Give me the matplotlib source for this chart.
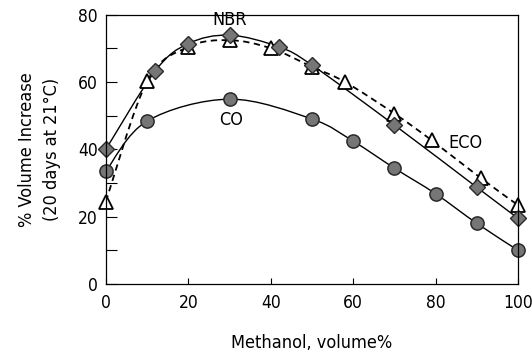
import matplotlib.pyplot as plt
from matplotlib.path import Path
from matplotlib.patches import PathPatch
from matplotlib.ticker import MultipleLocator

# values
co_x = [0, 10, 30, 50, 60, 70, 80, 90, 100]
co_y = [33.5, 48.4, 54.9, 49.0, 42.4, 34.4, 26.8, 18.0, 10.0]

nbr_x = [0, 12, 20, 30, 42, 50, 70, 90, 100]
nbr_y = [40.0, 63.3, 71.4, 73.9, 70.4, 65.0, 47.2, 28.7, 19.5]

eco_x = [0, 10, 20, 30, 40, 50, 58, 70, 79, 91, 100]
eco_y = [24.5, 60.2, 70.4, 72.4, 70.0, 64.5, 60.0, 50.6, 42.7, 31.4, 23.4]

x_ticks = [0, 20, 40, 60, 80, 100]
y_ticks = [0, 20, 40, 60, 80]


def smooth_path(xs, ys, k=6.0):
    # Catmull-Rom through the points, drawn as cubic Bezier segments
    pts = list(zip(xs, ys))
    verts = [pts[0]]
    codes = [Path.MOVETO]
    for i in range(len(pts) - 1):
        p0 = pts[max(i - 1, 0)]
        p1 = pts[i]
        p2 = pts[i + 1]
        p3 = pts[min(i + 2, len(pts) - 1)]
        c1 = (p1[0] + (p2[0] - p0[0]) / k, p1[1] + (p2[1] - p0[1]) / k)
        c2 = (p2[0] - (p3[0] - p1[0]) / k, p2[1] - (p3[1] - p1[1]) / k)
        verts += [c1, c2, p2]
        codes += [Path.CURVE4] * 3
    return Path(verts, codes)


plt.rcParams["font.family"] = ["Liberation Sans Narrow", "DejaVu Sans"]
plt.rcParams["font.stretch"] = "condensed"
plt.rcParams["font.size"] = 13

fig = plt.figure(figsize=(5.32, 3.56), dpi=100)
ax = fig.add_axes([0.199, 0.202, 0.775, 0.757])

grey = "#767676"
ax.add_patch(PathPatch(smooth_path(co_x, co_y), fill=False, ec="black", lw=1.0))
ax.add_patch(PathPatch(smooth_path(eco_x, eco_y), fill=False, ec="black",
                       lw=1.3, ls=(0, (3.5, 2.5))))
ax.add_patch(PathPatch(smooth_path(nbr_x, nbr_y), fill=False, ec="black", lw=1.0))

ax.plot(co_x, co_y, ls="none", marker="o", ms=9.5,
        mfc=grey, mec="#2a2a2a", mew=1.1, clip_on=False)
ax.plot(eco_x, eco_y, ls="none", marker="^",
        ms=10, mfc="white", mec="black", mew=1.3, clip_on=False)
ax.plot(nbr_x, nbr_y, ls="none", marker="D", ms=8,
        mfc=grey, mec="#2a2a2a", mew=1.0, clip_on=False)

ax.text(30, 78.3, "NBR", ha="center", va="center")
ax.text(30.3, 48.6, "CO", ha="center", va="center")
ax.text(87.3, 41.8, "ECO", ha="center", va="center")

ax.set_xlim(0, 100)
ax.set_ylim(0, 80)
ax.set_xticks(x_ticks)
ax.set_yticks(y_ticks)
ax.yaxis.set_minor_locator(MultipleLocator(10))
ax.tick_params(axis="y", which="both", direction="in", length=8, width=0.8,
               pad=6, labelsize=12.5)
ax.tick_params(axis="x", direction="in", length=4, width=0.8, pad=7,
               labelsize=12.5)
for s in ax.spines.values():
    s.set_linewidth(0.9)

ax.set_xlabel("Methanol, volume%", labelpad=16)
ax.set_ylabel("% Volume Increase\n(20 days at 21°C)", labelpad=12,
              linespacing=1.5)

fig.savefig("out.png", dpi=100)
